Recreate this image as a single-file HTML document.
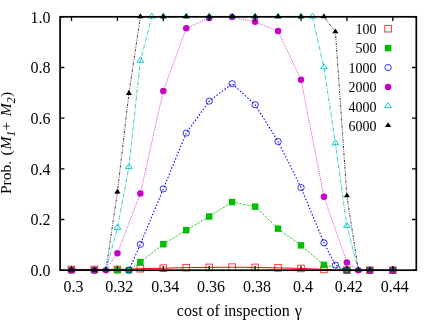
<!DOCTYPE html>
<html><head><meta charset="utf-8"><title>chart</title>
<style>html,body{margin:0;padding:0;background:#fff;}body{width:436px;height:322px;position:relative;overflow:hidden;font-family:"Liberation Serif",serif;}</style>
</head><body>
<svg width="436" height="322" viewBox="0 0 436 322" style="position:absolute;left:0;top:0;font-family:'Liberation Serif',serif;font-size:16.0px;fill:#000">
<rect width="436" height="322" fill="#fff"/>
<path d="M71.50 269.44 L94.45 269.44 L117.40 269.44 L140.35 268.68 L163.30 268.17 L186.25 267.67 L209.20 267.41 L232.15 267.16 L255.10 267.41 L278.05 267.92 L301.00 268.43 L323.95 269.44 L346.90 270.20 L369.85 270.20 L392.80 270.20" fill="none" stroke="#ff0000" stroke-width="1.0"/>
<rect x="68.20" y="266.14" width="6.60" height="6.60" fill="none" stroke="#ff0000" stroke-width="0.9" stroke-opacity="0.85"/>
<rect x="91.15" y="266.14" width="6.60" height="6.60" fill="none" stroke="#ff0000" stroke-width="0.9" stroke-opacity="0.85"/>
<rect x="114.10" y="266.14" width="6.60" height="6.60" fill="none" stroke="#ff0000" stroke-width="0.9" stroke-opacity="0.85"/>
<rect x="137.05" y="265.38" width="6.60" height="6.60" fill="none" stroke="#ff0000" stroke-width="0.9" stroke-opacity="0.85"/>
<rect x="160.00" y="264.87" width="6.60" height="6.60" fill="none" stroke="#ff0000" stroke-width="0.9" stroke-opacity="0.85"/>
<rect x="182.95" y="264.37" width="6.60" height="6.60" fill="none" stroke="#ff0000" stroke-width="0.9" stroke-opacity="0.85"/>
<rect x="205.90" y="264.11" width="6.60" height="6.60" fill="none" stroke="#ff0000" stroke-width="0.9" stroke-opacity="0.85"/>
<rect x="228.85" y="263.86" width="6.60" height="6.60" fill="none" stroke="#ff0000" stroke-width="0.9" stroke-opacity="0.85"/>
<rect x="251.80" y="264.11" width="6.60" height="6.60" fill="none" stroke="#ff0000" stroke-width="0.9" stroke-opacity="0.85"/>
<rect x="274.75" y="264.62" width="6.60" height="6.60" fill="none" stroke="#ff0000" stroke-width="0.9" stroke-opacity="0.85"/>
<rect x="297.70" y="265.13" width="6.60" height="6.60" fill="none" stroke="#ff0000" stroke-width="0.9" stroke-opacity="0.85"/>
<rect x="320.65" y="266.14" width="6.60" height="6.60" fill="none" stroke="#ff0000" stroke-width="0.9" stroke-opacity="0.85"/>
<rect x="343.60" y="266.90" width="6.60" height="6.60" fill="none" stroke="#ff0000" stroke-width="0.9" stroke-opacity="0.85"/>
<rect x="366.55" y="266.90" width="6.60" height="6.60" fill="none" stroke="#ff0000" stroke-width="0.9" stroke-opacity="0.85"/>
<rect x="389.50" y="266.90" width="6.60" height="6.60" fill="none" stroke="#ff0000" stroke-width="0.9" stroke-opacity="0.85"/>
<rect x="384.80" y="25.40" width="6.60" height="6.60" fill="none" stroke="#ff0000" stroke-width="0.9" stroke-opacity="0.85"/>
<path d="M71.50 270.20 L94.45 270.20 L117.40 270.20 L128.88 270.20 L140.35 262.09 L163.30 244.20 L186.25 230.16 L209.20 216.48 L232.15 202.04 L255.10 206.60 L278.05 228.64 L301.00 245.37 L323.95 264.88 L346.90 270.20 L369.85 270.20 L392.80 270.20" fill="none" stroke="#00c000" stroke-width="0.8" stroke-dasharray="2.4 1.3"/>
<rect x="68.25" y="266.95" width="6.50" height="6.50" fill="#00c000"/>
<rect x="91.20" y="266.95" width="6.50" height="6.50" fill="#00c000"/>
<rect x="114.15" y="266.95" width="6.50" height="6.50" fill="#00c000"/>
<rect x="125.63" y="266.95" width="6.50" height="6.50" fill="#00c000"/>
<rect x="137.10" y="258.84" width="6.50" height="6.50" fill="#00c000"/>
<rect x="160.05" y="240.95" width="6.50" height="6.50" fill="#00c000"/>
<rect x="183.00" y="226.91" width="6.50" height="6.50" fill="#00c000"/>
<rect x="205.95" y="213.23" width="6.50" height="6.50" fill="#00c000"/>
<rect x="228.90" y="198.79" width="6.50" height="6.50" fill="#00c000"/>
<rect x="251.85" y="203.35" width="6.50" height="6.50" fill="#00c000"/>
<rect x="274.80" y="225.39" width="6.50" height="6.50" fill="#00c000"/>
<rect x="297.75" y="242.12" width="6.50" height="6.50" fill="#00c000"/>
<rect x="320.70" y="261.63" width="6.50" height="6.50" fill="#00c000"/>
<rect x="343.65" y="266.95" width="6.50" height="6.50" fill="#00c000"/>
<rect x="366.60" y="266.95" width="6.50" height="6.50" fill="#00c000"/>
<rect x="389.55" y="266.95" width="6.50" height="6.50" fill="#00c000"/>
<rect x="384.85" y="44.85" width="6.50" height="6.50" fill="#00c000"/>
<path d="M71.50 270.20 L94.45 270.20 L128.88 270.20 L140.35 244.35 L163.30 188.86 L186.25 133.11 L209.20 101.18 L232.15 83.70 L255.10 104.73 L278.05 141.47 L301.00 187.59 L323.95 242.83 L335.42 265.13 L346.90 270.20 L369.85 270.20 L392.80 270.20" fill="none" stroke="#0000ff" stroke-width="1.1" stroke-dasharray="1.5 1.85"/>
<ellipse cx="71.50" cy="270.20" rx="3.2" ry="3.05" fill="none" stroke="#0000ff" stroke-width="0.9" stroke-opacity="0.9"/>
<ellipse cx="94.45" cy="270.20" rx="3.2" ry="3.05" fill="none" stroke="#0000ff" stroke-width="0.9" stroke-opacity="0.9"/>
<ellipse cx="128.88" cy="270.20" rx="3.2" ry="3.05" fill="none" stroke="#0000ff" stroke-width="0.9" stroke-opacity="0.9"/>
<ellipse cx="140.35" cy="244.35" rx="3.2" ry="3.05" fill="none" stroke="#0000ff" stroke-width="0.9" stroke-opacity="0.9"/>
<ellipse cx="163.30" cy="188.86" rx="3.2" ry="3.05" fill="none" stroke="#0000ff" stroke-width="0.9" stroke-opacity="0.9"/>
<ellipse cx="186.25" cy="133.11" rx="3.2" ry="3.05" fill="none" stroke="#0000ff" stroke-width="0.9" stroke-opacity="0.9"/>
<ellipse cx="209.20" cy="101.18" rx="3.2" ry="3.05" fill="none" stroke="#0000ff" stroke-width="0.9" stroke-opacity="0.9"/>
<ellipse cx="232.15" cy="83.70" rx="3.2" ry="3.05" fill="none" stroke="#0000ff" stroke-width="0.9" stroke-opacity="0.9"/>
<ellipse cx="255.10" cy="104.73" rx="3.2" ry="3.05" fill="none" stroke="#0000ff" stroke-width="0.9" stroke-opacity="0.9"/>
<ellipse cx="278.05" cy="141.47" rx="3.2" ry="3.05" fill="none" stroke="#0000ff" stroke-width="0.9" stroke-opacity="0.9"/>
<ellipse cx="301.00" cy="187.59" rx="3.2" ry="3.05" fill="none" stroke="#0000ff" stroke-width="0.9" stroke-opacity="0.9"/>
<ellipse cx="323.95" cy="242.83" rx="3.2" ry="3.05" fill="none" stroke="#0000ff" stroke-width="0.9" stroke-opacity="0.9"/>
<ellipse cx="335.42" cy="265.13" rx="3.2" ry="3.05" fill="none" stroke="#0000ff" stroke-width="0.9" stroke-opacity="0.9"/>
<ellipse cx="346.90" cy="270.20" rx="3.2" ry="3.05" fill="none" stroke="#0000ff" stroke-width="0.9" stroke-opacity="0.9"/>
<ellipse cx="369.85" cy="270.20" rx="3.2" ry="3.05" fill="none" stroke="#0000ff" stroke-width="0.9" stroke-opacity="0.9"/>
<ellipse cx="392.80" cy="270.20" rx="3.2" ry="3.05" fill="none" stroke="#0000ff" stroke-width="0.9" stroke-opacity="0.9"/>
<ellipse cx="388.10" cy="67.50" rx="3.2" ry="3.05" fill="none" stroke="#0000ff" stroke-width="0.9" stroke-opacity="0.9"/>
<path d="M71.50 270.20 L94.45 270.20 L105.93 270.20 L117.40 253.22 L140.35 193.42 L163.30 91.05 L186.25 28.20 L209.20 18.07 L232.15 17.05 L255.10 21.87 L278.05 30.99 L301.00 79.64 L323.95 196.71 L346.90 262.60 L358.38 270.20 L369.85 270.20 L392.80 270.20" fill="none" stroke="#c800c8" stroke-width="0.7" stroke-dasharray="1 1"/>
<circle cx="71.50" cy="270.20" r="3.25" fill="#c800c8"/>
<circle cx="94.45" cy="270.20" r="3.25" fill="#c800c8"/>
<circle cx="105.93" cy="270.20" r="3.25" fill="#c800c8"/>
<circle cx="117.40" cy="253.22" r="3.25" fill="#c800c8"/>
<circle cx="140.35" cy="193.42" r="3.25" fill="#c800c8"/>
<circle cx="163.30" cy="91.05" r="3.25" fill="#c800c8"/>
<circle cx="186.25" cy="28.20" r="3.25" fill="#c800c8"/>
<circle cx="209.20" cy="18.07" r="3.25" fill="#c800c8"/>
<circle cx="232.15" cy="17.05" r="3.25" fill="#c800c8"/>
<circle cx="255.10" cy="21.87" r="3.25" fill="#c800c8"/>
<circle cx="278.05" cy="30.99" r="3.25" fill="#c800c8"/>
<circle cx="301.00" cy="79.64" r="3.25" fill="#c800c8"/>
<circle cx="323.95" cy="196.71" r="3.25" fill="#c800c8"/>
<circle cx="346.90" cy="262.60" r="3.25" fill="#c800c8"/>
<circle cx="358.38" cy="270.20" r="3.25" fill="#c800c8"/>
<circle cx="369.85" cy="270.20" r="3.25" fill="#c800c8"/>
<circle cx="392.80" cy="270.20" r="3.25" fill="#c800c8"/>
<circle cx="388.10" cy="86.90" r="3.25" fill="#c800c8"/>
<path d="M105.93 270.20 L117.40 228.14 L128.88 167.32 L140.35 60.89 L151.83 16.80 M312.48 16.80 L323.95 67.48 L335.42 143.50 L346.90 226.11 L358.38 270.20 L369.85 270.20 L392.80 270.20" fill="none" stroke="#00c4c4" stroke-width="0.8" stroke-dasharray="4.2 1.2 0.9 1.2"/>
<path d="M105.93 266.47 L109.33 271.47 L102.53 271.47 Z" fill="none" stroke="#00c4c4" stroke-width="0.9"/>
<path d="M117.40 224.40 L120.80 229.40 L114.00 229.40 Z" fill="none" stroke="#00c4c4" stroke-width="0.9"/>
<path d="M128.88 163.59 L132.28 168.59 L125.48 168.59 Z" fill="none" stroke="#00c4c4" stroke-width="0.9"/>
<path d="M140.35 57.16 L143.75 62.16 L136.95 62.16 Z" fill="none" stroke="#00c4c4" stroke-width="0.9"/>
<path d="M151.83 13.07 L155.23 18.07 L148.43 18.07 Z" fill="none" stroke="#00c4c4" stroke-width="0.9"/>
<path d="M163.30 13.07 L166.70 18.07 L159.90 18.07 Z" fill="none" stroke="#00c4c4" stroke-width="0.9"/>
<path d="M186.25 13.07 L189.65 18.07 L182.85 18.07 Z" fill="none" stroke="#00c4c4" stroke-width="0.9"/>
<path d="M209.20 13.07 L212.60 18.07 L205.80 18.07 Z" fill="none" stroke="#00c4c4" stroke-width="0.9"/>
<path d="M232.15 13.07 L235.55 18.07 L228.75 18.07 Z" fill="none" stroke="#00c4c4" stroke-width="0.9"/>
<path d="M255.10 13.07 L258.50 18.07 L251.70 18.07 Z" fill="none" stroke="#00c4c4" stroke-width="0.9"/>
<path d="M278.05 13.07 L281.45 18.07 L274.65 18.07 Z" fill="none" stroke="#00c4c4" stroke-width="0.9"/>
<path d="M301.00 13.07 L304.40 18.07 L297.60 18.07 Z" fill="none" stroke="#00c4c4" stroke-width="0.9"/>
<path d="M312.48 13.07 L315.88 18.07 L309.08 18.07 Z" fill="none" stroke="#00c4c4" stroke-width="0.9"/>
<path d="M323.95 63.75 L327.35 68.75 L320.55 68.75 Z" fill="none" stroke="#00c4c4" stroke-width="0.9"/>
<path d="M335.42 139.77 L338.82 144.77 L332.02 144.77 Z" fill="none" stroke="#00c4c4" stroke-width="0.9"/>
<path d="M346.90 222.38 L350.30 227.38 L343.50 227.38 Z" fill="none" stroke="#00c4c4" stroke-width="0.9"/>
<path d="M358.38 266.47 L361.77 271.47 L354.98 271.47 Z" fill="none" stroke="#00c4c4" stroke-width="0.9"/>
<path d="M369.85 266.47 L373.25 271.47 L366.45 271.47 Z" fill="none" stroke="#00c4c4" stroke-width="0.9"/>
<path d="M392.80 266.47 L396.20 271.47 L389.40 271.47 Z" fill="none" stroke="#00c4c4" stroke-width="0.9"/>
<path d="M388.10 102.57 L391.50 107.57 L384.70 107.57 Z" fill="none" stroke="#00c4c4" stroke-width="0.9"/>
<path d="M71.50 270.20 L94.45 270.20 L105.93 270.20 L117.40 192.15 L128.88 93.58 L140.35 16.80 L163.30 16.80 L186.25 16.80 L209.20 16.80 L232.15 16.80 L255.10 16.80 L278.05 16.80 L301.00 16.80 L323.95 16.80 L335.42 32.00 L346.90 195.95 L358.38 270.20 L369.85 270.20 L392.80 270.20" fill="none" stroke="#000000" stroke-width="0.8" stroke-dasharray="2.2 1.1 0.7 1.1 0.7 1.1"/>
<path d="M71.50 266.63 L74.55 271.53 L68.45 271.53 Z" fill="#000000"/>
<path d="M94.45 266.63 L97.50 271.53 L91.40 271.53 Z" fill="#000000"/>
<path d="M105.93 266.63 L108.98 271.53 L102.88 271.53 Z" fill="#000000"/>
<path d="M117.40 188.59 L120.45 193.49 L114.35 193.49 Z" fill="#000000"/>
<path d="M128.88 90.01 L131.93 94.91 L125.83 94.91 Z" fill="#000000"/>
<path d="M140.35 13.23 L143.40 18.13 L137.30 18.13 Z" fill="#000000"/>
<path d="M163.30 13.23 L166.35 18.13 L160.25 18.13 Z" fill="#000000"/>
<path d="M186.25 13.23 L189.30 18.13 L183.20 18.13 Z" fill="#000000"/>
<path d="M209.20 13.23 L212.25 18.13 L206.15 18.13 Z" fill="#000000"/>
<path d="M232.15 13.23 L235.20 18.13 L229.10 18.13 Z" fill="#000000"/>
<path d="M255.10 13.23 L258.15 18.13 L252.05 18.13 Z" fill="#000000"/>
<path d="M278.05 13.23 L281.10 18.13 L275.00 18.13 Z" fill="#000000"/>
<path d="M301.00 13.23 L304.05 18.13 L297.95 18.13 Z" fill="#000000"/>
<path d="M323.95 13.23 L327.00 18.13 L320.90 18.13 Z" fill="#000000"/>
<path d="M335.42 28.44 L338.47 33.34 L332.37 33.34 Z" fill="#000000"/>
<path d="M346.90 192.39 L349.95 197.29 L343.85 197.29 Z" fill="#000000"/>
<path d="M358.38 266.63 L361.43 271.53 L355.32 271.53 Z" fill="#000000"/>
<path d="M369.85 266.63 L372.90 271.53 L366.80 271.53 Z" fill="#000000"/>
<path d="M392.80 266.63 L395.85 271.53 L389.75 271.53 Z" fill="#000000"/>
<path d="M388.10 122.13 L391.15 127.03 L385.05 127.03 Z" fill="#000000"/>
<path d="M71.50 270.2 V265.9 M71.50 16.8 V21.1 M117.40 270.2 V265.9 M117.40 16.8 V21.1 M163.30 270.2 V265.9 M163.30 16.8 V21.1 M209.20 270.2 V265.9 M209.20 16.8 V21.1 M255.10 270.2 V265.9 M255.10 16.8 V21.1 M301.00 270.2 V265.9 M301.00 16.8 V21.1 M346.90 270.2 V265.9 M346.90 16.8 V21.1 M392.80 270.2 V265.9 M392.80 16.8 V21.1 M60.1 270.20 H64.4 M416.3 270.20 H412.0 M60.1 219.52 H64.4 M416.3 219.52 H412.0 M60.1 168.84 H64.4 M416.3 168.84 H412.0 M60.1 118.16 H64.4 M416.3 118.16 H412.0 M60.1 67.48 H64.4 M416.3 67.48 H412.0 M60.1 16.80 H64.4 M416.3 16.80 H412.0" stroke="#000" stroke-width="1.3" fill="none"/>
<rect x="60.1" y="16.8" width="356.2" height="253.39999999999998" fill="none" stroke="#000" stroke-width="1.7"/>
<g style="filter:grayscale(1)">
<text x="73.40" y="292.2" text-anchor="middle">0.3</text>
<text x="119.30" y="292.2" text-anchor="middle">0.32</text>
<text x="165.20" y="292.2" text-anchor="middle">0.34</text>
<text x="211.10" y="292.2" text-anchor="middle">0.36</text>
<text x="257.00" y="292.2" text-anchor="middle">0.38</text>
<text x="302.90" y="292.2" text-anchor="middle">0.4</text>
<text x="348.80" y="292.2" text-anchor="middle">0.42</text>
<text x="394.70" y="292.2" text-anchor="middle">0.44</text>
<text x="50.5" y="276.10" text-anchor="end">0.0</text>
<text x="50.5" y="225.42" text-anchor="end">0.2</text>
<text x="50.5" y="174.74" text-anchor="end">0.4</text>
<text x="50.5" y="124.06" text-anchor="end">0.6</text>
<text x="50.5" y="73.38" text-anchor="end">0.8</text>
<text x="50.5" y="22.70" text-anchor="end">1.0</text>
<text x="239.3" y="315.9" text-anchor="middle">cost of inspection <tspan dx="1">γ</tspan></text>
<text transform="translate(11.4 142.5) rotate(-90)" font-size="15.5"><tspan x="-51.6">Prob.</tspan><tspan x="-12.9">(</tspan><tspan x="-6.9" font-style="italic">M</tspan><tspan x="5.7" font-style="italic" font-size="12.4" dy="3.9">1</tspan><tspan x="12.0" dy="-3.9">+</tspan><tspan x="26.3" font-style="italic">M</tspan><tspan x="39.0" font-style="italic" font-size="12.4" dy="3.9">2</tspan><tspan x="45.5" dy="-3.9">)</tspan></text>
<text x="376.6" y="33.90" text-anchor="end" font-size="14.0">100</text>
<text x="376.6" y="53.30" text-anchor="end" font-size="14.0">500</text>
<text x="376.6" y="72.70" text-anchor="end" font-size="14.0">1000</text>
<text x="376.6" y="92.10" text-anchor="end" font-size="14.0">2000</text>
<text x="376.6" y="111.50" text-anchor="end" font-size="14.0">4000</text>
<text x="376.6" y="130.90" text-anchor="end" font-size="14.0">6000</text>
</g>
</svg>
</body></html>
